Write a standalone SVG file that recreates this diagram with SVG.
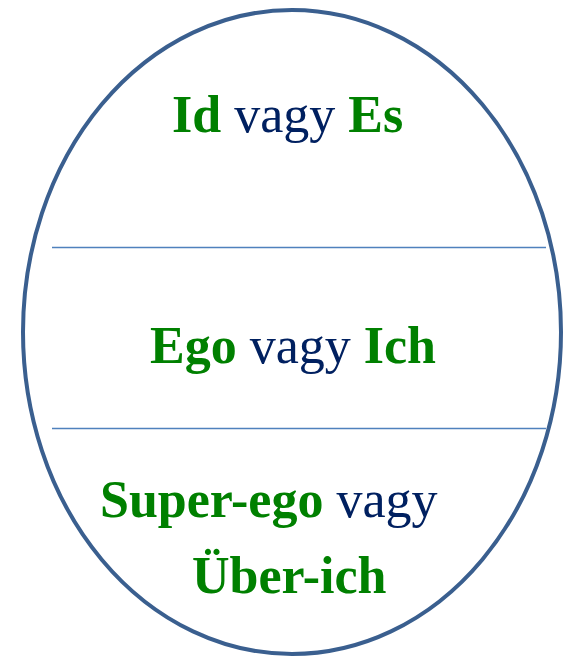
<svg xmlns="http://www.w3.org/2000/svg" width="569" height="658" viewBox="0 0 569 658">
<style>
.t{font-family:"Liberation Serif","Times New Roman",serif;font-size:52px}
.g{fill:#008000;font-weight:bold}
.n{fill:#002060}
.sep{stroke:#4f81bd;stroke-width:1.6}
</style>
<rect width="569" height="658" fill="#ffffff"/>
<g id="oval">
<ellipse cx="292" cy="332" rx="269" ry="322" fill="#ffffff" stroke="#3a5f8f" stroke-width="4"/>
</g>
<g id="connectors">
<line class="sep" x1="52" y1="247.5" x2="546" y2="247.5"/>
<line class="sep" x1="52" y1="428.5" x2="546" y2="428.5"/>
</g>
<g id="id">
<text class="t" x="172" y="132"><tspan class="g">Id</tspan><tspan class="n"> vagy </tspan><tspan class="g">Es</tspan></text>
</g>
<g id="ego">
<text class="t" x="150" y="363"><tspan class="g">Ego</tspan><tspan class="n"> vagy </tspan><tspan class="g">Ich</tspan></text>
</g>
<g id="superego">
<text class="t" x="100" y="517"><tspan class="g">Super-ego</tspan><tspan class="n"> vagy</tspan></text>
<text class="t g" x="192" y="593">Über-ich</text>
</g>
</svg>
